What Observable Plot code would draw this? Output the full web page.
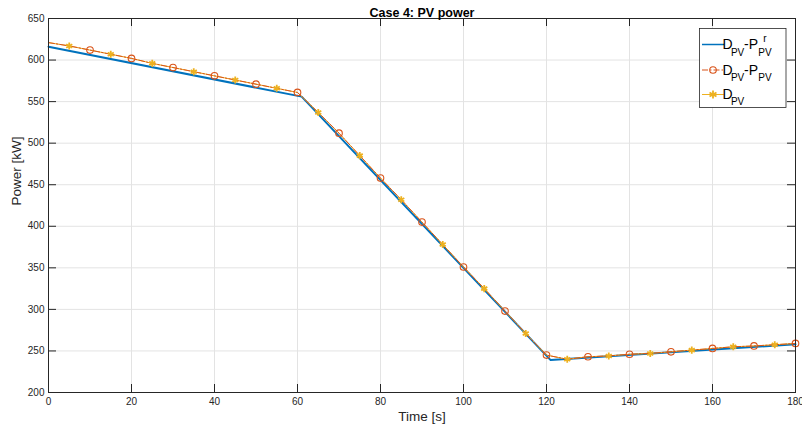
<!DOCTYPE html>
<html><head><meta charset="utf-8">
<script src="https://cdn.jsdelivr.net/npm/d3@7"></script>
<script src="https://cdn.jsdelivr.net/npm/@observablehq/plot@0.6"></script>
<style>body{margin:0;background:#fff;} #chart svg{display:block;}</style>
</head><body><div id="chart"></div>
<script>
const title = "Case 4: PV power";
const xLabel = "Time [s]";
const yLabel = "Power [kW]";
const xTicks = [0, 20, 40, 60, 80, 100, 120, 140, 160, 180];
const yTicks = [200, 250, 300, 350, 400, 450, 500, 550, 600, 650];

// D_PV - P^r_PV (blue)
const refTime = [0, 61, 121, 180];
const refPower = [616, 556, 239, 258];

// sampled series (orange & yellow)
const time = [0,5,10,15,20,25,30,35,40,45,50,55,60,65,70,75,80,85,90,95,100,105,110,115,120,125,130,135,140,145,150,155,160,165,170,175,180];
const dpvMinusP = [621,617,612,607,602,596,591,586,581,576,571,566,561,537,512,485,458,432,405,378,351,325,298,271,245,240,243,244,246,247,249,251,253,255,256,257.5,259];
const dpv = [621,617,612,607,602,596,591,586,581,576,571,566,561,537,512,485,458,432,405,378,351,325,298,271,245,240,243,244,246,247,249,251,253,255,256,257.5,259];
const circleTimes = [10,20,30,40,50,60,70,80,90,100,110,120,130,140,150,160,170,180];
const starTimes = [5,15,25,35,45,55,65,75,85,95,105,115,125,135,145,155,165,175];

const blue = "#0072BD", orange = "#D95319", yellow = "#EDB120";

const refData = refTime.map((t, i) => ({t, v: refPower[i]}));
const pData = time.map((t, i) => ({t, v: dpvMinusP[i]}));
const dData = time.map((t, i) => ({t, v: dpv[i]}));
const circles = pData.filter(d => circleTimes.includes(d.t));
const stars = dData.filter(d => starTimes.includes(d.t));

const W = 802, H = 434, mL = 48, mR = 7, mT = 18, mB = 42;
const fw = W - mL - mR, fh = H - mT - mB;
const axisColor = "#262626";

const plot = Plot.plot({
  width: W, height: H,
  marginLeft: mL, marginRight: mR, marginTop: mT, marginBottom: mB,
  style: {fontFamily: "'Liberation Sans', Arial, sans-serif", fontSize: "10px", color: axisColor, background: "white"},
  x: {domain: [0, 180]},
  y: {domain: [200, 650]},
  marks: [
    Plot.gridX(xTicks, {stroke: "#e3e3e3", strokeOpacity: 1}),
    Plot.gridY(yTicks, {stroke: "#e3e3e3", strokeOpacity: 1}),
    Plot.line(refData, {x: "t", y: "v", stroke: blue, strokeWidth: 2}),
    Plot.line(dData, {x: "t", y: "v", stroke: yellow, strokeWidth: 1}),
    Plot.line(pData, {x: "t", y: "v", stroke: orange, strokeWidth: 1, strokeDasharray: "6,2,1.5,2"}),
    Plot.dot(circles, {x: "t", y: "v", symbol: "circle", r: 3.3, stroke: orange, fill: "none", strokeWidth: 1.1}),
    Plot.dot(stars, {x: "t", y: "v", symbol: "asterisk", r: 3.3, stroke: yellow, strokeWidth: 1.8}),
    Plot.frame({stroke: axisColor, strokeWidth: 1}),
    Plot.ruleX(xTicks, {stroke: axisColor, insetTop: fh - 8}),
    Plot.ruleX(xTicks, {stroke: axisColor, insetBottom: fh - 8}),
    Plot.ruleY(yTicks, {stroke: axisColor, insetRight: fw - 8}),
    Plot.ruleY(yTicks, {stroke: axisColor, insetLeft: fw - 8}),
    Plot.axisX(xTicks, {tickSize: 0, tickPadding: 5, label: null}),
    Plot.axisY(yTicks, {tickSize: 0, tickPadding: 4, label: null}),
    Plot.text([title], {text: d => d, frameAnchor: "top", dy: -10, fontWeight: "bold", fontSize: 12.5, fill: "#000"}),
    Plot.text([xLabel], {text: d => d, frameAnchor: "bottom", dy: 28, fontSize: 13.5, fill: axisColor}),
    Plot.text([yLabel], {text: d => d, frameAnchor: "left", dx: -32, rotate: -90, fontSize: 13.5, fill: axisColor})
  ]
});
document.getElementById("chart").appendChild(plot);

// Legend
const svg = d3.select(plot);
const lg = svg.append("g").attr("font-family", "'Liberation Sans', Arial, sans-serif").attr("fill", "#000");
lg.append("rect").attr("x", 699.5).attr("y", 28.5).attr("width", 86.5).attr("height", 79)
  .attr("fill", "white").attr("stroke", axisColor).attr("stroke-width", 0.8);

function rich(x, y, parts) {
  let cx = x, prevStart = x, maxEnd = x;
  for (const p of parts) {
    const sx = p.sameX ? prevStart : cx;
    const t = lg.append("text").attr("x", sx).attr("y", y + (p.shift || 0))
      .attr("font-size", p.size).text(p.s);
    const w = t.node().getComputedTextLength();
    prevStart = sx;
    maxEnd = p.sameX ? Math.max(maxEnd, sx + w) : sx + w;
    cx = maxEnd;
  }
}
const entries = [
  {cy: 44.5, base: 49, color: blue, dash: null, width: 1.5, marker: null,
   parts: [{s: "D", size: 14}, {s: "PV", size: 10, shift: 6.5}, {s: "-P", size: 14}, {s: "r", size: 10, shift: -7}, {s: "PV", size: 10, shift: 6.5, sameX: true}]},
  {cy: 70, base: 74.5, color: orange, dash: "6,2,1.5,2", width: 1, marker: "circle",
   parts: [{s: "D", size: 14}, {s: "PV", size: 10, shift: 6.5}, {s: "-P", size: 14}, {s: "PV", size: 10, shift: 6.5}]},
  {cy: 94.5, base: 98.5, color: yellow, dash: null, width: 1, marker: "star",
   parts: [{s: "D", size: 14}, {s: "PV", size: 10, shift: 6.5}]}
];
for (const e of entries) {
  const ln = lg.append("line").attr("x1", 702).attr("x2", 724).attr("y1", e.cy).attr("y2", e.cy)
    .attr("stroke", e.color).attr("stroke-width", e.width);
  if (e.dash) ln.attr("stroke-dasharray", e.dash);
  if (e.marker === "circle") {
    lg.append("circle").attr("cx", 713).attr("cy", e.cy).attr("r", 3.3).attr("fill", "none").attr("stroke", e.color).attr("stroke-width", 1.1);
  } else if (e.marker === "star") {
    lg.append("path").attr("transform", `translate(713,${e.cy})`).attr("d", d3.symbol(d3.symbolAsterisk, 45)())
      .attr("stroke", e.color).attr("stroke-width", 1.8).attr("fill", "none");
  }
  rich(727.5, e.base, e.parts);
}
</script>
</body></html>
